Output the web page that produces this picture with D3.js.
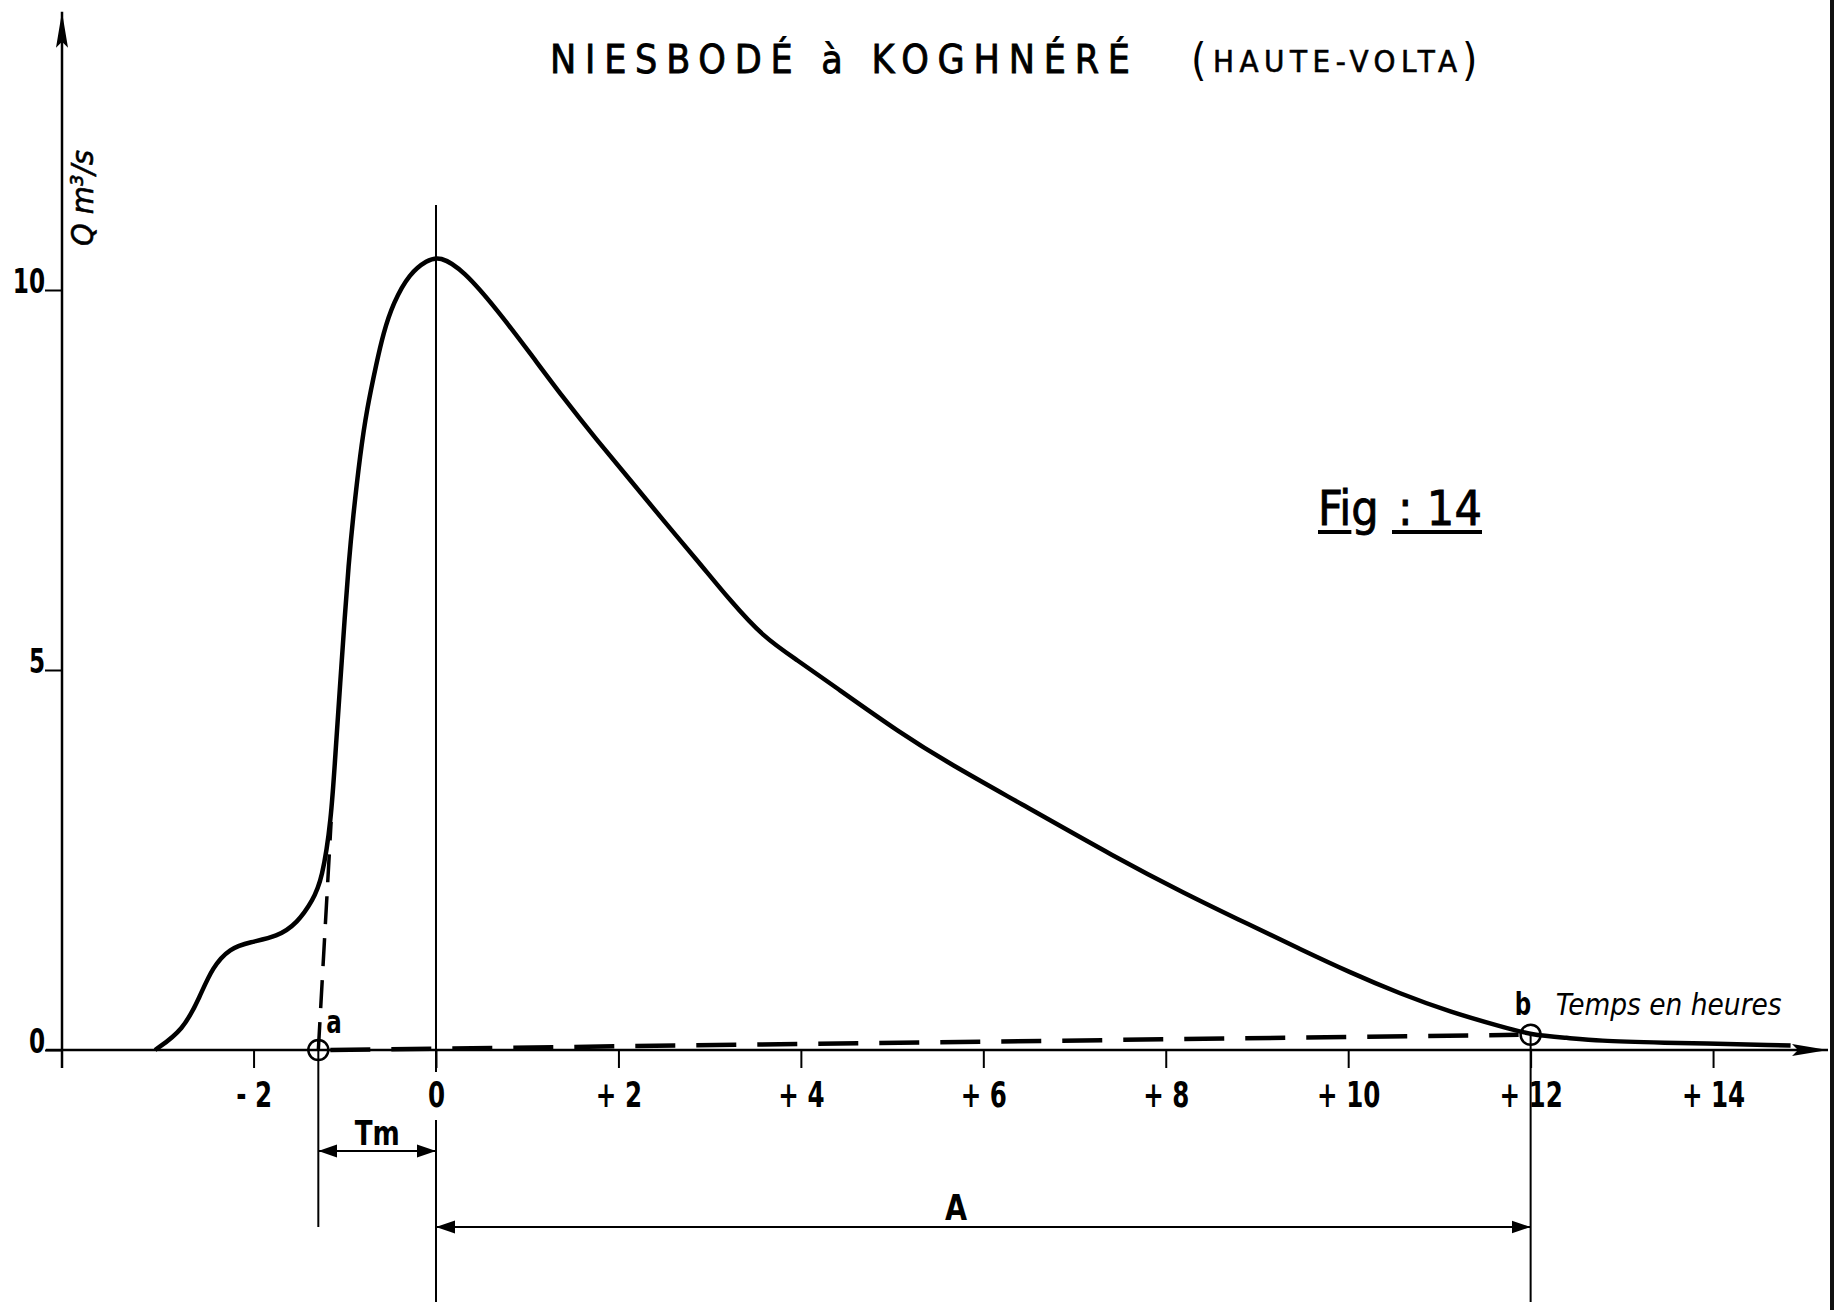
<!DOCTYPE html>
<html>
<head>
<meta charset="utf-8">
<script src="https://cdn.jsdelivr.net/npm/d3@7/dist/d3.min.js"></script>
<style>
	body { margin: 0; background: #fff; }
	svg { display: block; }
	text { fill: #000; }
	.draft { font-family: 'DejaVu Sans Condensed', 'Liberation Sans Narrow', 'DejaVu Sans', sans-serif; font-stretch: condensed; }
	.bold { font-weight: bold; }
	.ital { font-style: italic; }
</style>
</head>
<body>
<div id="chart"></div>
<script>
// Hydrograph of the flood, time in hours from the peak, discharge in m3/s
const hours = [
	-3.08, -2.77, -2.59, -2.45, -2.26, -2.04, -1.74, -1.52, -1.35, -1.25,
	-1.15, -1.10, -1.05, -1.00, -0.96, -0.91, -0.83, -0.76, -0.65, -0.58,
	-0.47, -0.29, -0.10, 0.04, 0.30, 0.67, 1.03, 1.39, 1.76, 2.13,
	2.49, 2.86, 3.22, 3.59, 3.96, 4.35, 5.09, 5.64, 6.37, 7.47,
	8.19, 8.93, 9.47, 10.02, 10.57, 11.12, 11.67, 12.0, 12.4, 12.76,
	13.3, 14.85
]
const discharge = [
	0, 0.26, 0.70, 1.09, 1.34, 1.42, 1.49, 1.67, 1.97, 2.24,
	3.00, 3.95, 4.83, 5.70, 6.36, 7.01, 7.85, 8.42, 9.05, 9.42,
	9.83, 10.22, 10.39, 10.45, 10.26, 9.74, 9.17, 8.59, 8.03, 7.50,
	6.97, 6.45, 5.92, 5.43, 5.13, 4.80, 4.17, 3.76, 3.27, 2.52,
	2.07, 1.64, 1.33, 1.02, 0.74, 0.50, 0.31, 0.20, 0.16, 0.12,
	0.10, 0.06
]

// construction points a (start of rise) and b (end of runoff)
const pointNames = ['a', 'b']
const pointHours = [-1.29, 12.0]
const pointQ = [0, 0.2]
// tangent to the rising limb, through a
const tangentHours = [-1.29, -1.15]
const tangentQ = [0, 3.0]

const xTicks = [-2, 0, 2, 4, 6, 8, 10, 12, 14]
const xTickLabels = ['- 2', '0', '+ 2', '+ 4', '+ 6', '+ 8', '+ 10', '+ 12', '+ 14']
const yTicks = [0, 5, 10]
const yTickLabels = ['0', '5', '10']

const title = 'NIESBODÉ à KOGHNÉRÉ'
const subtitle = 'HAUTE-VOLTA'
const figLabel = ['Fig', ': 14']
const xTitle = 'Temps en heures'
const yTitle = 'Q m³/s'

const w = 1834, h = 1310
const narrow = 0.78   // the lettering stencil is narrower than the font

let $svg = d3.select('#chart').append('svg')
	.attr('width', w)
	.attr('height', h)

const $defs = $svg.append('defs')
$defs.append('marker')
	.attr('id', 'axis-arrow')
	.attr('markerUnits', 'userSpaceOnUse')
	.attr('viewBox', '0 -7 36 14')
	.attr('refX', 36).attr('refY', 0)
	.attr('markerWidth', 36).attr('markerHeight', 14)
	.attr('orient', 'auto-start-reverse')
	.append('path')
	.attr('d', 'M0,-6L36,0L0,6L6,0Z')
	.attr('fill', '#000')
$defs.append('marker')
	.attr('id', 'dim-arrow')
	.attr('markerUnits', 'userSpaceOnUse')
	.attr('viewBox', '0 -7 19 14')
	.attr('refX', 19).attr('refY', 0)
	.attr('markerWidth', 19).attr('markerHeight', 14)
	.attr('orient', 'auto-start-reverse')
	.append('path')
	.attr('d', 'M0,-6.5L19,0L0,6.5Z')
	.attr('fill', '#000')

let x = d3.scaleLinear()
	.domain([-4.1, 15.26])
	.range([62, 1828])

let y = d3.scaleLinear()
	.domain([0, 10])
	.range([1050, 290])

const xMin = x.domain()[0], xMax = x.domain()[1]
const tmY = 1151, aY = 1227

// scan edge on the right
$svg.append('rect')
	.attr('x', w - 4).attr('y', 0)
	.attr('width', 4).attr('height', h)
	.attr('fill', '#111')

// Axes

$svg.append('line')
	.attr('x1', x(xMin)).attr('x2', x(xMin))
	.attr('y1', y(0) + 18).attr('y2', y(13.66))
	.attr('stroke', '#000').attr('stroke-width', 2.5)
	.attr('marker-end', 'url(#axis-arrow)')

$svg.append('line')
	.attr('x1', x(xMin) - 16).attr('x2', x(xMax))
	.attr('y1', y(0)).attr('y2', y(0))
	.attr('stroke', '#000').attr('stroke-width', 2.5)
	.attr('marker-end', 'url(#axis-arrow)')

let $xAxis = $svg.append('g')
	.attr('class', 'axis axis--x draft bold')
	.attr('transform', `translate(0, ${y(0)})`)
	.call(d3.axisBottom(x)
		.tickValues(xTicks)
		.tickFormat((d, i) => xTickLabels[i])
		.tickSize(18)
		.tickSizeOuter(0)
		.tickPadding(15))
$xAxis.attr('font-family', null).attr('font-size', null)
$xAxis.select('.domain').remove()
$xAxis.selectAll('line').attr('stroke', '#000').attr('stroke-width', 2)
$xAxis.selectAll('text')
	.attr('font-size', 35)
	.attr('y', 0)
	.attr('dy', 0)
	.attr('transform', `translate(0, 57) scale(${narrow}, 1)`)
	.style('white-space', 'pre')

let $yAxis = $svg.append('g')
	.attr('class', 'axis axis--y draft bold')
	.attr('transform', `translate(${x(xMin)}, 0)`)
	.call(d3.axisLeft(y)
		.tickValues(yTicks)
		.tickFormat((d, i) => yTickLabels[i])
		.tickSize(17)
		.tickSizeOuter(0)
		.tickPadding(1))
$yAxis.attr('font-family', null).attr('font-size', null)
$yAxis.select('.domain').remove()
$yAxis.selectAll('line').attr('stroke', '#000').attr('stroke-width', 2)
$yAxis.selectAll('text')
	.attr('font-size', 33)
	.attr('x', 0)
	.attr('dy', 0)
	.attr('transform', `translate(-17, 2) scale(${narrow}, 1)`)

// Reference lines

// peak time: upper part crosses the axis, lower part after the tick label
$svg.append('line')
	.attr('x1', x(0)).attr('x2', x(0))
	.attr('y1', y(11.12)).attr('y2', y(0) + 22)
	.attr('stroke', '#000').attr('stroke-width', 2)
$svg.append('line')
	.attr('x1', x(0)).attr('x2', x(0))
	.attr('y1', y(0) + 70).attr('y2', h - 8)
	.attr('stroke', '#000').attr('stroke-width', 2)

// from a down to the A dimension line
$svg.append('line')
	.attr('x1', x(pointHours[0])).attr('x2', x(pointHours[0]))
	.attr('y1', y(pointQ[0]) - 10).attr('y2', aY)
	.attr('stroke', '#000').attr('stroke-width', 2)
$svg.append('line')
	.attr('x1', x(pointHours[0]) - 10).attr('x2', x(pointHours[0]) + 10)
	.attr('y1', y(pointQ[0])).attr('y2', y(pointQ[0]))
	.attr('stroke', '#000').attr('stroke-width', 2)

// from b down to the bottom
$svg.append('line')
	.attr('x1', x(pointHours[1])).attr('x2', x(pointHours[1]))
	.attr('y1', y(pointQ[1])).attr('y2', h - 8)
	.attr('stroke', '#000').attr('stroke-width', 2)

// Construction lines

$svg.append('line')
	.attr('x1', x(tangentHours[0])).attr('x2', x(tangentHours[1]))
	.attr('y1', y(tangentQ[0])).attr('y2', y(tangentQ[1]))
	.attr('stroke', '#000').attr('stroke-width', 3.5)
	.attr('stroke-dasharray', '28 14')

$svg.append('line')
	.attr('x1', x(pointHours[0]) + 12).attr('x2', x(pointHours[1]) - 12)
	.attr('y1', y(pointQ[0])).attr('y2', y(pointQ[1]))
	.attr('stroke', '#000').attr('stroke-width', 4.5)
	.attr('stroke-dasharray', '40 21')

// Hydrograph

const line = d3.line()
	.x(d => x(d[0]))
	.y(d => y(d[1]))
	.curve(d3.curveBasis)

$svg.append('path')
	.datum(hours.map((d, i) => [d, discharge[i]]))
	.attr('d', line)
	.attr('fill', 'none')
	.attr('stroke', '#000')
	.attr('stroke-width', 4.5)
	.attr('stroke-linejoin', 'round')

// points a, b
$svg.selectAll('.pt')
	.data(pointNames)
	.enter()
	.append('circle')
	.attr('class', 'pt')
	.attr('cx', (d, i) => x(pointHours[i]))
	.attr('cy', (d, i) => y(pointQ[i]))
	.attr('r', 10)
	.attr('fill', 'none')
	.attr('stroke', '#000')
	.attr('stroke-width', 2.5)

$svg.selectAll('.pt-label')
	.data(pointNames)
	.enter()
	.append('text')
	.attr('class', 'pt-label draft bold')
	.attr('transform', (d, i) => `translate(${x(pointHours[i]) + (i ? -16 : 8)}, ${y(pointQ[i]) - (i ? 20 : 17)}) scale(${narrow + 0.1}, 1.1)`)
	.attr('font-size', 29)
	.text(d => d)

// Dimension lines

$svg.append('line')
	.attr('x1', x(pointHours[0])).attr('x2', x(0))
	.attr('y1', tmY).attr('y2', tmY)
	.attr('stroke', '#000').attr('stroke-width', 2)
	.attr('marker-start', 'url(#dim-arrow)')
	.attr('marker-end', 'url(#dim-arrow)')
$svg.append('text')
	.attr('class', 'draft bold')
	.attr('transform', `translate(${(x(pointHours[0]) + x(0)) / 2}, ${tmY - 6}) scale(${narrow + 0.1}, 1)`)
	.attr('text-anchor', 'middle')
	.attr('font-size', 33)
	.text('Tm')

$svg.append('line')
	.attr('x1', x(0)).attr('x2', x(pointHours[1]))
	.attr('y1', aY).attr('y2', aY)
	.attr('stroke', '#000').attr('stroke-width', 2)
	.attr('marker-start', 'url(#dim-arrow)')
	.attr('marker-end', 'url(#dim-arrow)')
$svg.append('text')
	.attr('class', 'draft bold')
	.attr('transform', `translate(${x(5.7)}, ${aY - 7}) scale(${narrow + 0.1}, 1)`)
	.attr('text-anchor', 'middle')
	.attr('font-size', 36)
	.text('A')

// Titles

$svg.append('text')
	.attr('class', 'draft')
	.attr('x', 550).attr('y', 73)
	.attr('font-size', 39)
	.attr('stroke', '#000').attr('stroke-width', 0.8)
	.attr('textLength', 580)
	.attr('lengthAdjust', 'spacing')
	.text(title)

const $sub = $svg.append('g').attr('class', 'draft')
$sub.append('text')
	.attr('x', 1191).attr('y', 75)
	.attr('font-size', 44)
	.text('(')
$sub.append('text')
	.attr('x', 1213).attr('y', 72)
	.attr('font-size', 31)
	.attr('stroke', '#000').attr('stroke-width', 0.6)
	.attr('textLength', 244)
	.attr('lengthAdjust', 'spacing')
	.text(subtitle)
$sub.append('text')
	.attr('x', 1462).attr('y', 75)
	.attr('font-size', 44)
	.text(')')

// axis titles
$svg.append('text')
	.attr('class', 'draft ital')
	.attr('transform', `translate(${x(xMin) + 31}, 198) rotate(-90)`)
	.attr('text-anchor', 'middle')
	.attr('font-size', 31)
	.attr('stroke', '#000').attr('stroke-width', 0.6)
	.attr('textLength', 96)
	.attr('lengthAdjust', 'spacingAndGlyphs')
	.text(yTitle)

$svg.append('text')
	.attr('class', 'draft ital')
	.attr('x', x(pointHours[1]) + 25)
	.attr('y', y(pointQ[1]) - 20)
	.attr('font-size', 31)
	.attr('textLength', 226)
	.attr('lengthAdjust', 'spacingAndGlyphs')
	.text(xTitle)

// figure number, underlined like the drawing
const figX = 1318, figY = 525
const $fig = $svg.append('g').attr('class', 'draft')
const $fig1 = $fig.append('text')
	.attr('x', figX).attr('y', figY)
	.attr('font-size', 48)
	.attr('stroke', '#000').attr('stroke-width', 0.8)
	.text(figLabel[0])
const $fig2 = $fig.append('text')
	.attr('x', figX + 80).attr('y', figY)
	.attr('font-size', 48)
	.attr('stroke', '#000').attr('stroke-width', 0.8)
	.attr('textLength', 84)
	.attr('lengthAdjust', 'spacing')
	.text(figLabel[1])

const fiWidth = $fig1.node().getSubStringLength(0, 2)
$fig.append('line')
	.attr('x1', figX).attr('x2', figX + fiWidth)
	.attr('y1', figY + 7).attr('y2', figY + 7)
	.attr('stroke', '#000').attr('stroke-width', 4)
$fig.append('line')
	.attr('x1', figX + 74).attr('x2', figX + 80 + 84)
	.attr('y1', figY + 7).attr('y2', figY + 7)
	.attr('stroke', '#000').attr('stroke-width', 4)
</script>
</body>
</html>
